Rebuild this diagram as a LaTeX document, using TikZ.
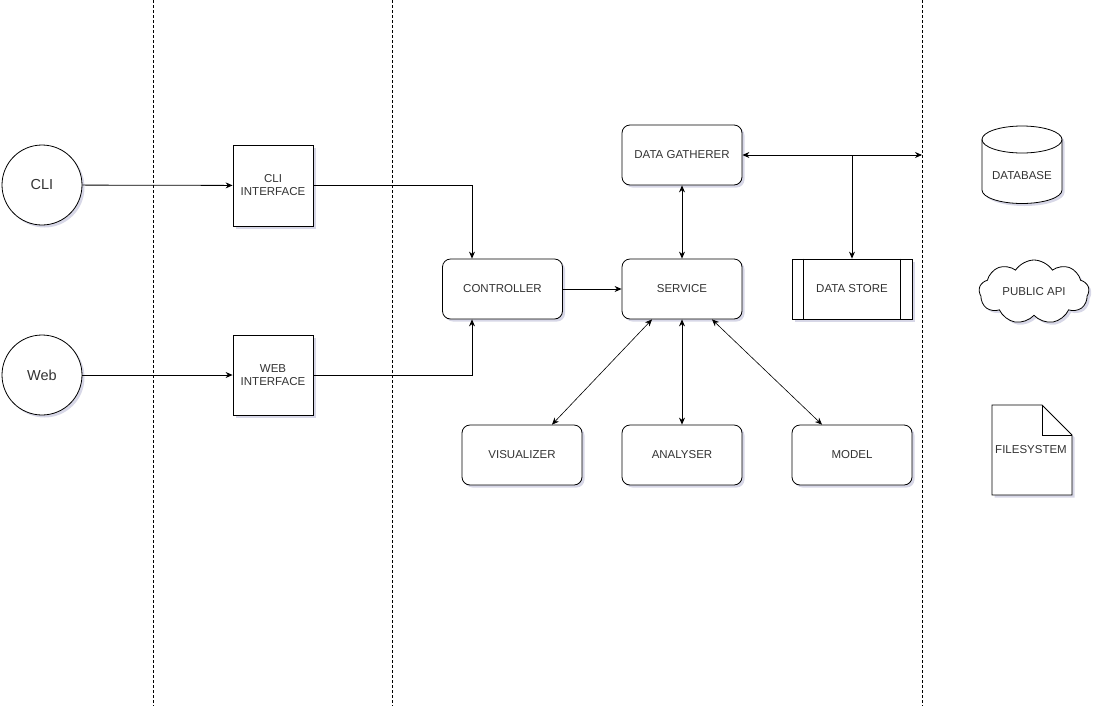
\documentclass[tikz,border=0pt]{standalone}
\usepackage{fontspec}
\setmainfont{Liberation Sans}
\usetikzlibrary{shapes.symbols,shadows,arrows.meta}
\tikzset{
  shad/.style={drop shadow={shadow xshift=2.5pt,shadow yshift=-2.5pt,opacity=0.25,fill=blue!25!gray}},
  rbox/.style={draw,line width=0.8pt,rounded corners=8pt,minimum width=120pt,minimum height=60pt,inner sep=0pt,fill=white,shad,font=\fontsize{11.5}{13}\selectfont,text=black!80},
  sbox/.style={draw,line width=0.8pt,minimum width=80pt,minimum height=80pt,inner sep=0pt,fill=white,shad,align=center,font=\fontsize{11.5}{13}\selectfont,text=black!80},
  circ/.style={draw,line width=0.8pt,circle,minimum size=80pt,inner sep=0pt,fill=white,shad,font=\fontsize{14.5}{16}\selectfont,text=black!80},
  lbl/.style={font=\fontsize{11.5}{13}\selectfont,text=black!80},
  lane/.style={densely dashed,line width=0.6pt},
  arr/.style={-{Stealth[length=7pt,width=6pt]},line width=0.8pt},
  darr/.style={{Stealth[length=7pt,width=6pt]}-{Stealth[length=7pt,width=6pt]},line width=0.8pt},
}
\begin{document}
\begin{tikzpicture}[x=1pt,y=-1pt]
\useasboundingbox (0,0) rectangle (1101,713);
% lanes
\coordinate (l1t) at (153,0); \coordinate (l1b) at (153,706);
\coordinate (l2t) at (392,0); \coordinate (l2b) at (392,706);
\coordinate (l3t) at (922,0); \coordinate (l3b) at (922,706);
\draw[lane] (l1t) -- (l1b);
\draw[lane] (l2t) -- (l2b);
\draw[lane] (l3t) -- (l3b);
% nodes
\node[circ] (cli) at (42,185) {CLI};
\node[circ] (web) at (42,375) {Web};
\node[sbox,minimum height=81pt] (clii) at (273,185.5) {CLI\\INTERFACE};
\node[sbox] (webi) at (273,375) {WEB\\INTERFACE};
\node[rbox] (ctrl) at (502.5,289) {CONTROLLER};
\node[rbox] (serv) at (682,289) {SERVICE};
\node[rbox] (dg) at (682,155) {DATA GATHERER};
\node[rbox,rounded corners=0pt] (ds) at (852,289) {DATA STORE};
\draw[line width=0.8pt] (ds.north west) ++(12,0) -- ++(0,60);
\draw[line width=0.8pt] (ds.north east) ++(-12,0) -- ++(0,60);
\node[rbox] (vis) at (522,455) {VISUALIZER};
\node[rbox] (ana) at (682,455) {ANALYSER};
\node[rbox] (mod) at (852,455) {MODEL};
% database
\path[draw,line width=0.8pt,fill=white,shad] (982,139.5) arc[start angle=180,end angle=360,x radius=40,y radius=13.5] -- (1062,190) arc[start angle=0,end angle=180,x radius=40,y radius=13.5] -- cycle;
\draw[line width=0.8pt] (982,139.5) arc[start angle=180,end angle=0,x radius=40,y radius=13.5];
\node[lbl] (db) at (1022,176) {DATABASE};
% cloud
\node[draw,line width=0.8pt,cloud,cloud puffs=9,cloud puff arc=115,aspect=1.9,minimum width=110pt,minimum height=64pt,inner sep=0pt,fill=white,shad,lbl] (api) at (1034,292) {PUBLIC API};
% filesystem
\path[draw,line width=0.8pt,fill=white,shad] (992,405) -- (1042,405) -- (1072,435) -- (1072,495) -- (992,495) -- cycle;
\draw[line width=0.8pt] (1042,405) -- (1042,435) -- (1072,435);
\node[lbl] (fs) at (1031,450) {FILESYSTEM};
% connectors
\draw[arr] (cli) -- (clii);
\draw[arr] (web) -- (webi);
\draw[arr] (clii.east) -| (ctrl.north -| 472,0);
\draw[arr] (webi.east) -| (ctrl.south -| 472,0);
\draw[arr] (ctrl) -- (serv);
\draw[darr] (serv) -- (dg);
\coordinate (dgend) at (922,155);
\coordinate (br) at (852,155);
\draw[darr] (dg) -- (dgend);
\draw[arr] (br) -- (ds);
\draw[darr,line width=0.6pt] (serv.south -| 652,0) -- (vis.north -| 552,0);
\draw[darr] (serv) -- (ana);
\draw[darr,line width=0.6pt] (serv.south -| 712,0) -- (mod.north -| 822,0);
\end{tikzpicture}
\end{document}
